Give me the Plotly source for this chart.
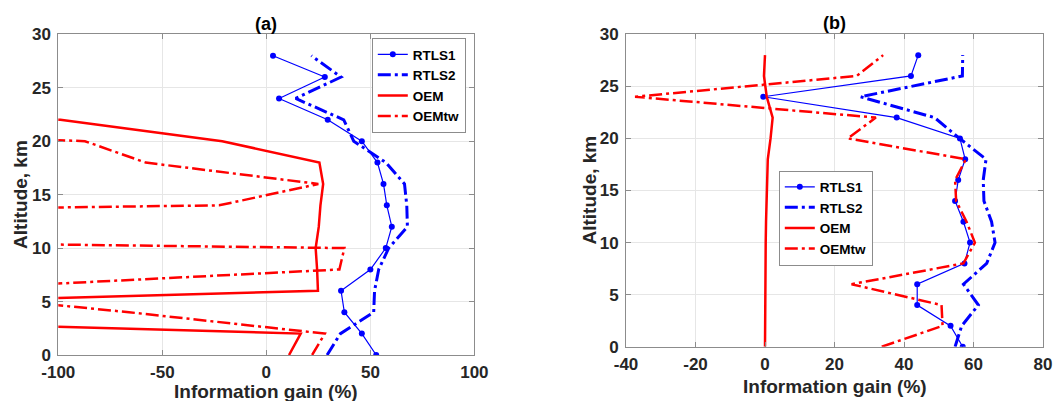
import plotly.graph_objects as go

# Altitude levels (km)
altitude = [0, 2, 4, 6, 8, 10, 12, 14, 16, 18, 20, 22, 24, 26, 28]

# Panel (a): information gain (%)
a_rtls1 = [52.8, 45.9, 37.5, 35.9, 50.0, 57.4, 60.3, 57.9, 56.3, 53.4, 45.9, 29.5, 6.1, 28.1, 3.2]
a_rtls2 = [29.2, 35.6, 51.6, 52.0, 54.0, 58.8, 67.8, 67.5, 66.4, 57.5, 42.0, 37.2, 14.1, 35.9, 21.6]
a_oem = [10.9, 16.5, -350, 24.8, 24.4, 23.7, 25.2, 26.0, 27.3, 25.5, -21.2, -99.0, -700, -900, -900]
a_oemtw = [22.0, 28.1, -66.0, -170, 35.1, 37.5, -800, -22.7, 25.0, -58.0, -87.2, -350, -800, -900, -900]

# Panel (b): information gain (%)
b_rtls1 = [56.9, 53.4, 43.8, 43.8, 57.4, 59.0, 57.1, 54.7, 55.6, 57.6, 56.1, 37.9, -0.5, 42.0, 44.1]
b_rtls2 = [54.7, 56.6, 61.4, 57.1, 63.8, 66.2, 65.2, 63.0, 62.8, 63.6, 56.0, 48.8, 27.5, 56.8, 56.9]
b_oem = [0.0, 0.0, 0.0, 0.0, 0.1, 0.2, 0.3, 0.4, 0.5, 0.8, 1.6, 2.2, 0.5, -0.3, 0.0]
b_oemtw = [33.6, 51.1, 50.8, 24.9, 57.1, 60.4, 58.0, 55.0, 54.7, 57.8, 23.8, 31.9, -37.4, 26.4, 34.0]

series_names = ["RTLS1", "RTLS2", "OEM", "OEMtw"]

# Tick values and labels (plain hyphen for negatives)
a_xticks = [-100, -50, 0, 50, 100]
a_xlabels = ["-100", "-50", "0", "50", "100"]
b_xticks = [-40, -20, 0, 20, 40, 60, 80]
b_xlabels = ["-40", "-20", "0", "20", "40", "60", "80"]
yticks = [0, 5, 10, 15, 20, 25, 30]
ylabels = ["0", "5", "10", "15", "20", "25", "30"]

BLUE = "rgb(0,0,255)"
RED = "rgb(255,0,0)"
DASHDOT = "13px,4px,3px,4px"
FONT = "Liberation Sans, Arial, Helvetica, sans-serif"
TXT = "#262626"

styles = [
    dict(mode="lines+markers", line=dict(color=BLUE, width=1.2),
         marker=dict(symbol="circle", size=6, color=BLUE)),
    dict(mode="lines", line=dict(color=BLUE, width=3, dash=DASHDOT)),
    dict(mode="lines", line=dict(color=RED, width=2.5)),
    dict(mode="lines", line=dict(color=RED, width=2.5, dash=DASHDOT)),
]

fig = go.Figure()

panels = [
    ([a_rtls1, a_rtls2, a_oem, a_oemtw], "x", "y", "legend"),
    ([b_rtls1, b_rtls2, b_oem, b_oemtw], "x2", "y2", "legend2"),
]
for series, xa, ya, lg in panels:
    for name, vals, st in zip(series_names, series, styles):
        fig.add_trace(go.Scatter(x=vals, y=altitude, name=name, xaxis=xa, yaxis=ya,
                                 legend=lg, **st))

W, H = 1056, 401
# plot-area pixel boxes
ax_a = dict(l=58.3, r=474.4, t=34.3, b=355.0)
ax_b = dict(l=626.0, r=1043.0, t=34.3, b=346.7)


def xdom(box):
    return [box["l"] / W, box["r"] / W]


def ydom(box):
    return [1 - box["b"] / H, 1 - box["t"] / H]


axis_common = dict(
    showgrid=True, gridcolor="#e6e6e6", gridwidth=1,
    showline=True, linecolor="#8c8c8c", linewidth=1, mirror="allticks",
    ticks="inside", ticklen=5, tickcolor="#8c8c8c",
    zeroline=False, automargin=False, tickmode="array",
    tickfont=dict(family=FONT, size=17, color=TXT, weight="bold"),
)

legend_common = dict(
    xanchor="left", yanchor="top",
    bgcolor="white", bordercolor="#8c8c8c", borderwidth=1,
    font=dict(family=FONT, size=13.5, color="black", weight="bold"),
    tracegroupgap=0, itemwidth=30,
)


def ann(text, x, y, size, angle=0, color=TXT):
    return dict(text=text, x=x / W, y=1 - y / H, xref="paper", yref="paper",
                showarrow=False, xanchor="center", yanchor="middle", textangle=angle,
                font=dict(family=FONT, size=size, color=color, weight="bold"))


fig.update_layout(
    template="none",
    width=W, height=H,
    margin=dict(l=0, r=0, t=0, b=0, autoexpand=False),
    paper_bgcolor="white", plot_bgcolor="white",
    font=dict(family=FONT, color=TXT),
    xaxis=dict(domain=xdom(ax_a), range=[-100, 100], anchor="y",
               tickvals=a_xticks, ticktext=a_xlabels, ticklabelstandoff=2, **axis_common),
    yaxis=dict(domain=ydom(ax_a), range=[0, 30], anchor="x",
               tickvals=yticks, ticktext=ylabels, ticklabelstandoff=3, **axis_common),
    xaxis2=dict(domain=xdom(ax_b), range=[-40, 80], anchor="y2",
                tickvals=b_xticks, ticktext=b_xlabels, ticklabelstandoff=2, **axis_common),
    yaxis2=dict(domain=ydom(ax_b), range=[0, 30], anchor="x2",
                tickvals=yticks, ticktext=ylabels, ticklabelstandoff=3, **axis_common),
    legend=dict(x=371.8 / W, y=1 - 38 / H, **legend_common),
    legend2=dict(x=778.8 / W, y=1 - 170.5 / H, **legend_common),
    showlegend=True,
    annotations=[
        ann("(a)", (ax_a["l"] + ax_a["r"]) / 2, 24, 18, color="black"),
        ann("(b)", (ax_b["l"] + ax_b["r"]) / 2, 23.5, 18, color="black"),
        ann("Information gain (%)", 266.3, 391.5, 19),
        ann("Information gain (%)", 834.5, 386.7, 19),
        ann("Altitude, km", 20.2, 194.7, 19, angle=-90),
        ann("Altitude, km", 589.0, 190.5, 19, angle=-90),
    ],
)

fig.write_html("out.html")
